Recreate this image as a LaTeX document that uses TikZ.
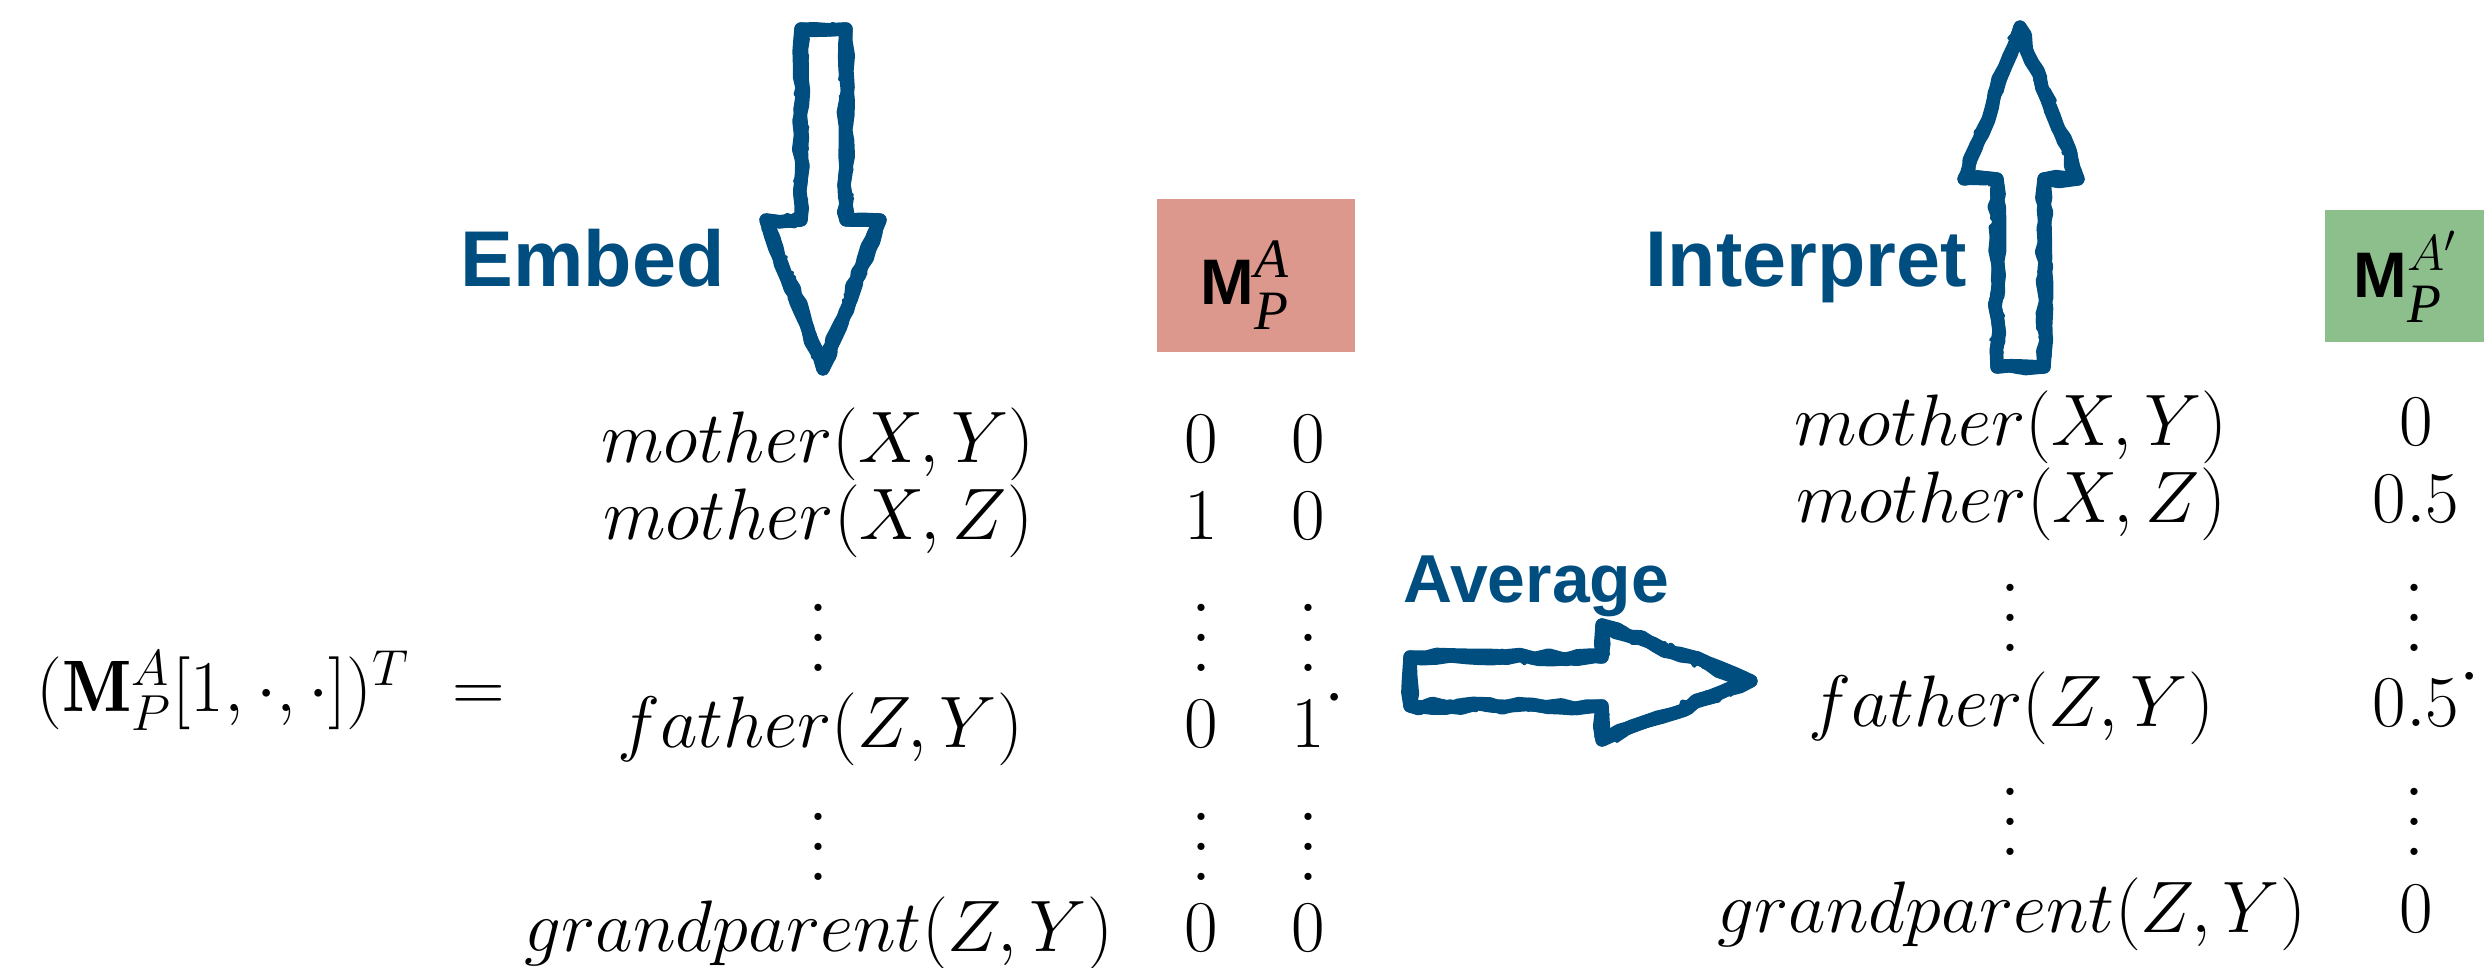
\documentclass[tikz,border=0pt]{standalone}
\usepackage{fontspec}
\usetikzlibrary{decorations.pathmorphing}
\newfontfamily\hvfont{Liberation Sans}
\newfontfamily\tmfont{Liberation Serif}
\definecolor{arrowblue}{RGB}{0,78,127}
\definecolor{pinkbox}{RGB}{220,152,141}
\definecolor{greenbox}{RGB}{141,191,141}
\newcommand{\myvdots}{{\fontsize{25pt}{25pt}\selectfont\vbox{\baselineskip=8.6pt\lineskiplimit=-20pt\hbox{.}\hbox{.}\hbox{.}}}}
\newcommand{\topdot}{\rlap{\raisebox{0.45em}{$\cdot$}}}
\tikzset{
  mat/.style={inner sep=0pt, font=\fontsize{20.74pt}{24pt}\selectfont},
  lbl/.style={inner sep=0pt, text=arrowblue, font=\fontsize{22.5pt}{26pt}\selectfont\hvfont\bfseries},
  boxlbl/.style={inner sep=0pt, font=\fontsize{18.3pt}{21pt}\selectfont},
  sketchcore/.style={draw=arrowblue, line width=3.8pt, line join=round,
     decorate, decoration={random steps, segment length=4pt, amplitude=0.8pt}},
  sketchedge/.style={draw=arrowblue, line width=1.0pt, line join=round,
     decorate, decoration={random steps, segment length=2.5pt, amplitude=1.9pt}},
}
\newcommand{\mlabel}[1]{{\hvfont\bfseries M}{\fontsize{15.8pt}{15.8pt}\selectfont\tmfont\itshape\rlap{\raisebox{7.7pt}{#1}}\raisebox{-7pt}{P}}}
\begin{document}
\begin{tikzpicture}[x=0.01cm, y=-0.01cm]
\useasboundingbox (0,0) rectangle (2484,968);

% ---------- coloured boxes ----------
\fill[pinkbox] (1157,199) rectangle (1355,352);
\node[boxlbl, anchor=base west] (mpa) at (1200,305) {\mlabel{A}};
\fill[greenbox] (2325,210) rectangle (2484,342);
\node[boxlbl, anchor=base west] (mpa2) at (2353,298) {\mlabel{$A'$}};

% ---------- labels ----------
\node[lbl, anchor=base west] (embed) at (460,287) {Embed};
\node[lbl, anchor=base west] (interp) at (1645,287) {Interpret};
\node[lbl, anchor=base west, font=\fontsize{19.3pt}{22pt}\selectfont\hvfont\bfseries] (avg) at (1403,603) {Average};

% ---------- sketchy block arrows ----------
\foreach \s/\st in {11/sketchcore, 23/sketchcore, 37/sketchedge, 53/sketchedge, 71/sketchedge}{
  \pgfmathsetseed{\s}
  \path[\st] (801,29) -- (846,29) -- (846,220) -- (880,220) -- (823,369) -- (766,220) -- (801,220) -- cycle;
  \path[\st] (1997,367) -- (2044,367) -- (2044,179) -- (2078,179) -- (2020,27) -- (1964,179) -- (1997,179) -- cycle;
  \path[\st] (1410,657) -- (1602,657) -- (1602,625) -- (1751,681) -- (1602,740) -- (1602,706) -- (1410,706) -- cycle;
}

% ---------- left matrix ----------
\node[mat, anchor=base west] (lhs) at (36,712) {$(\mathbf{M}_P^A[1,\cdot,\cdot])^T\ =$};
\node[mat, anchor=base] (l1) at (818,463) {$mother(X,Y)$};
\node[mat, anchor=base] (l2) at (818,540) {$mother(X,Z)$};
\node[mat] (l3) at (818,638) {\myvdots};
\node[mat, anchor=base] (l4) at (820,748) {$father(Z,Y)$};
\node[mat] (l5) at (818,847) {\myvdots};
\node[mat, anchor=base] (l6) at (819,952) {$grandparent(Z,Y)$};

\node[mat, anchor=base] (a1) at (1201,463) {$0$};
\node[mat, anchor=base] (a2) at (1201,540) {$1$};
\node[mat] (a3) at (1201,638) {\myvdots};
\node[mat, anchor=base] (a4) at (1201,748) {$0$};
\node[mat] (a5) at (1201,847) {\myvdots};
\node[mat, anchor=base] (a6) at (1201,952) {$0$};

\node[mat, anchor=base] (b1) at (1308,463) {$0$};
\node[mat, anchor=base] (b2) at (1308,540) {$0$};
\node[mat] (b3) at (1308,638) {\myvdots};
\node[mat, anchor=base] (b4) at (1308,748) {$1$\topdot};
\node[mat] (b5) at (1308,847) {\myvdots};
\node[mat, anchor=base] (b6) at (1308,952) {$0$};

% ---------- right matrix ----------
\node[mat, anchor=base] (r1) at (2011,446) {$mother(X,Y)$};
\node[mat, anchor=base] (r2) at (2011,523) {$mother(X,Z)$};
\node[mat] (r3) at (2010,618) {\myvdots};
\node[mat, anchor=base] (r4) at (2011,727) {$father(Z,Y)$};
\node[mat] (r5) at (2010,822) {\myvdots};
\node[mat, anchor=base] (r6) at (2012,933) {$grandparent(Z,Y)$};

\node[mat, anchor=base] (c1) at (2416,446) {$0$};
\node[mat, anchor=base] (c2) at (2416,523) {$0.5$};
\node[mat] (c3) at (2414,618) {\myvdots};
\node[mat, anchor=base] (c4) at (2416,727) {$0.5$\topdot};
\node[mat] (c5) at (2414,822) {\myvdots};
\node[mat, anchor=base] (c6) at (2416,933) {$0$};
\end{tikzpicture}
\end{document}
